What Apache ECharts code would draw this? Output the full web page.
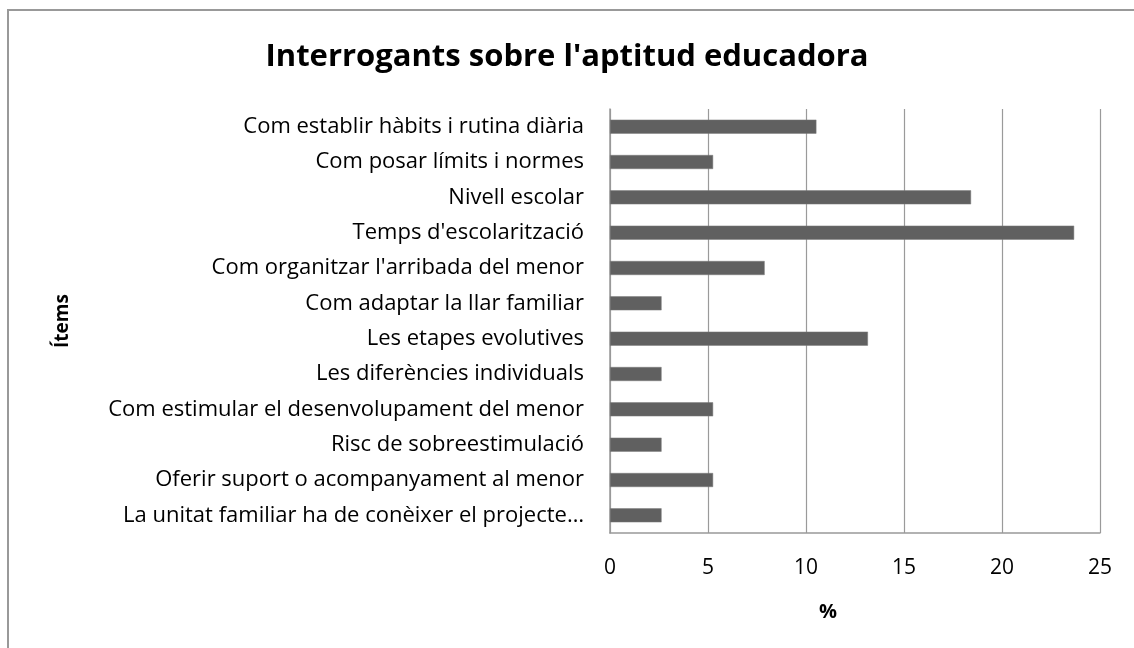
<!DOCTYPE html>
<html>
<head>
<meta charset="utf-8">
<script src="https://cdn.jsdelivr.net/npm/echarts@6/dist/echarts.min.js"></script>
<style>
  html, body { margin: 0; padding: 0; background: #fff; }
  #chart { width: 1134px; height: 648px; }
</style>
</head>
<body>
<div id="chart"></div>
<script>
  // categories, top to bottom as in the picture
  const items = [
    'Com establir hàbits i rutina diària',
    'Com posar límits i normes',
    'Nivell escolar',
    "Temps d'escolarització",
    "Com organitzar l'arribada del menor",
    'Com adaptar la llar familiar',
    'Les etapes evolutives',
    'Les diferències individuals',
    'Com estimular el desenvolupament del menor',
    'Risc de sobreestimulació',
    'Oferir suport o acompanyament al menor',
    'La unitat familiar ha de conèixer el projecte…'
  ]

  // percentage per item
  const percents = [10.53, 5.26, 18.42, 23.68, 7.89, 2.63, 13.16, 2.63, 5.26, 2.63, 5.26, 2.63]

  const xTicks = { min: 0, max: 25, step: 5 }

  const font = 'Open Sans'

  const chart = echarts.init(document.getElementById('chart'))
  chart.setOption({
    animation: false,
    backgroundColor: '#fff',
    title: {
      text: "Interrogants sobre l'aptitud educadora",
      left: 'center',
      top: 37,
      textStyle: { fontFamily: font, fontSize: 31, fontWeight: 'bold', color: '#000' }
    },
    graphic: [
      {
        // outer frame, runs off the right and bottom edges like the original
        type: 'rect',
        shape: { x: 8, y: 10, width: 1200, height: 700 },
        style: { fill: 'none', stroke: '#999', lineWidth: 2 },
        silent: true
      }
    ],
    grid: { left: 610, right: 34, top: 109, bottom: 115, containLabel: false },
    xAxis: {
      type: 'value',
      min: xTicks.min,
      max: xTicks.max,
      interval: xTicks.step,
      name: '%',
      nameLocation: 'middle',
      nameGap: 69,
      nameTextStyle: { fontFamily: font, fontSize: 20, fontWeight: 'bold', color: '#000', padding: [0, 54, 0, 0] },
      axisLine: { show: true, lineStyle: { color: '#999', width: 1.5 } },
      axisTick: { show: false },
      axisLabel: { fontFamily: font, fontSize: 21, color: '#000', margin: 25 },
      splitLine: { show: true, lineStyle: { color: '#9a9a9a', width: 1.2 } }
    },
    yAxis: {
      type: 'category',
      data: items,
      inverse: true,
      name: 'Ítems',
      nameLocation: 'middle',
      nameGap: 538,
      nameRotate: 90,
      nameTextStyle: { fontFamily: font, fontSize: 19, fontWeight: 'bold', color: '#000' },
      axisLine: { show: true, lineStyle: { color: '#999', width: 1.5 } },
      axisTick: { show: false },
      axisLabel: { fontFamily: font, fontSize: 22, color: '#000', margin: 26 }
    },
    series: [
      {
        type: 'bar',
        data: percents,
        barWidth: 14,
        itemStyle: { color: '#606060', borderColor: '#7a7a7a', borderWidth: 0.5 }
      }
    ]
  })
</script>
</body>
</html>
